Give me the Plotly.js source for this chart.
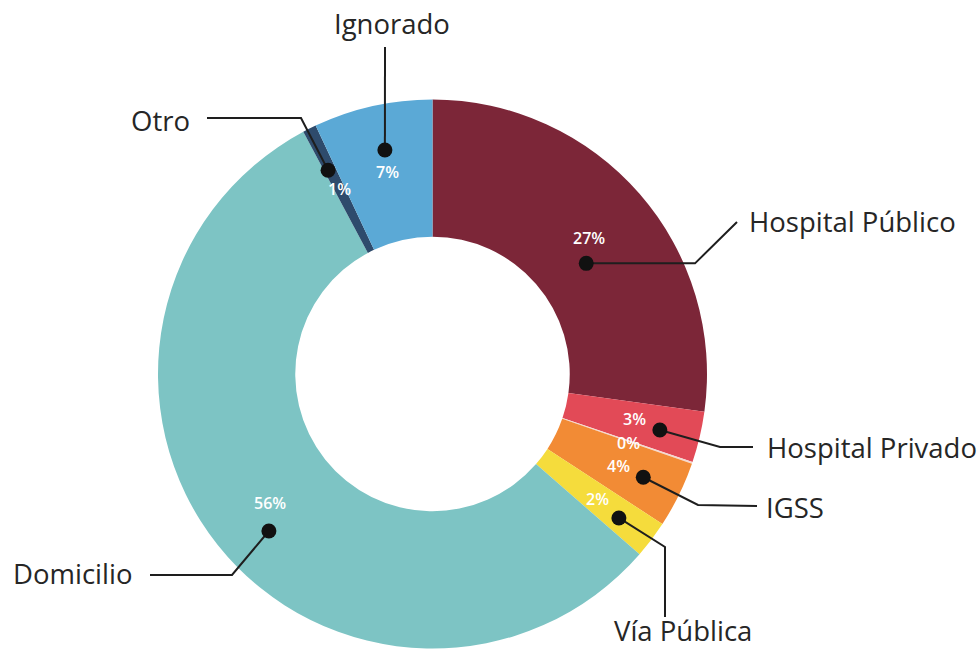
<!DOCTYPE html>
<html>
<head>
<meta charset="utf-8">
<script src="https://cdn.plot.ly/plotly-3.0.1.min.js"></script>
<style>html,body{margin:0;padding:0;background:#fff;}#chart{width:979px;height:649px;}</style>
</head>
<body>
<div id="chart"></div>
<script>
// ---- data ----
const categories = ["Hospital Público", "Hospital Privado", "Centro de Salud", "IGSS", "Vía Pública", "Domicilio", "Otro", "Ignorado"];
const shares = [27.2, 3.0, 0.1, 3.9, 2.2, 55.8, 0.8, 7.0];
const calloutNames = ["Hospital Público", "Hospital Privado", "", "IGSS", "Vía Pública", "Domicilio", "Otro", "Ignorado"];

// ---- style ----
const sliceColors = ["#7C2638", "#E24A57", "#F4D9CF", "#F28B35", "#F5DC3C", "#7DC4C4", "#2E4B6C", "#5BA9D6"];
const W = 979, H = 649;
const CX = 432.5, CY = 374, R = 274.5, HOLE = 0.5;
const pctRadius = 0.755;
const pctNudgeY = [0, -3, 1.5, 1, 0, 0, 0, 0];
const dotRadius = [0.69, 0.853, null, 0.855, 0.858, 0.826, 0.834, 0.834];
const dotShift = [5.3, 0.5, 0, 0, 0.6, -5.3, -0.5, 0.6];
// leader-line layout (pixel positions of elbows and line ends)
const leaders = [
  {elbow: [695, null], end: [737, 222], text: [747, 221, "left"]},
  {elbow: [720, 447], end: [753, 447], text: [765, 447, "left"]},
  null,
  {elbow: [698, 505], end: [757, 506], text: [764, 507, "left"]},
  {elbow: [665, 547], end: [665, 617], text: [683, 630, "center"]},
  {elbow: [232, 575], end: [150, 575], text: [11, 573, "left"]},
  {elbow: [301, 118], end: [207, 118], text: [129, 121, "left"]},
  {elbow: null, end: [385, 47], text: [392, 24, "center"]}
];

const px = x => x / W;
const py = y => 1 - y / H;

const total = shares.reduce((a, b) => a + b, 0);
let cum = 0;
const mids = shares.map(v => { const m = (cum + v / 2) / total * 360; cum += v; return m; });
function polar(deg, r) {
  const a = deg * Math.PI / 180;
  return [CX + r * Math.sin(a), CY - r * Math.cos(a)];
}

const pie = {
  type: "pie",
  labels: categories,
  values: shares,
  sort: false,
  direction: "clockwise",
  rotation: 0,
  hole: HOLE,
  textinfo: "none",
  hoverinfo: "label+percent",
  marker: {colors: sliceColors, line: {width: 0}},
  domain: {x: [px(CX - R), px(CX + R)], y: [py(CY + R), py(CY - R)]},
  showlegend: false
};

const annotations = [];
const shapes = [];
shares.forEach((v, i) => {
  const p = polar(mids[i], R * pctRadius);
  annotations.push({
    xref: "paper", yref: "paper", x: px(p[0]), y: py(p[1] + pctNudgeY[i]),
    text: Math.round(v / total * 100) + "%", showarrow: false,
    xanchor: "center", yanchor: "middle", borderpad: 0,
    font: {family: "Open Sans, sans-serif", size: 16, color: "#ffffff", weight: 600}
  });
  const L = leaders[i];
  if (!L) return;
  const d = polar(mids[i] + dotShift[i], R * dotRadius[i]);
  const pts = [d];
  if (L.elbow) pts.push([L.elbow[0], L.elbow[1] === null ? d[1] : L.elbow[1]]);
  pts.push(L.end);
  const path = pts.map((q, k) => (k ? "L" : "M") + px(q[0]).toFixed(5) + "," + py(q[1]).toFixed(5)).join(" ");
  shapes.push({type: "path", xref: "paper", yref: "paper", path: path, layer: "above",
    line: {color: "#1e1e1e", width: 2}});
  shapes.push({type: "circle", xref: "paper", yref: "paper",
    xsizemode: "pixel", ysizemode: "pixel", xanchor: px(d[0]), yanchor: py(d[1]),
    x0: -7.5, x1: 7.5, y0: -7.5, y1: 7.5, layer: "above",
    fillcolor: "#111111", line: {width: 0}});
  annotations.push({
    xref: "paper", yref: "paper", x: px(L.text[0]), y: py(L.text[1]),
    text: calloutNames[i], showarrow: false, xanchor: L.text[2], yanchor: "middle",
    font: {family: "Open Sans, sans-serif", size: 27.5, color: "#262626"}
  });
});

const layout = {
  width: W, height: H,
  margin: {l: 0, r: 0, t: 0, b: 0},
  paper_bgcolor: "#ffffff",
  showlegend: false,
  annotations: annotations,
  shapes: shapes
};
Plotly.newPlot("chart", [pie], layout, {displayModeBar: false, staticPlot: true});
</script>
</body>
</html>
